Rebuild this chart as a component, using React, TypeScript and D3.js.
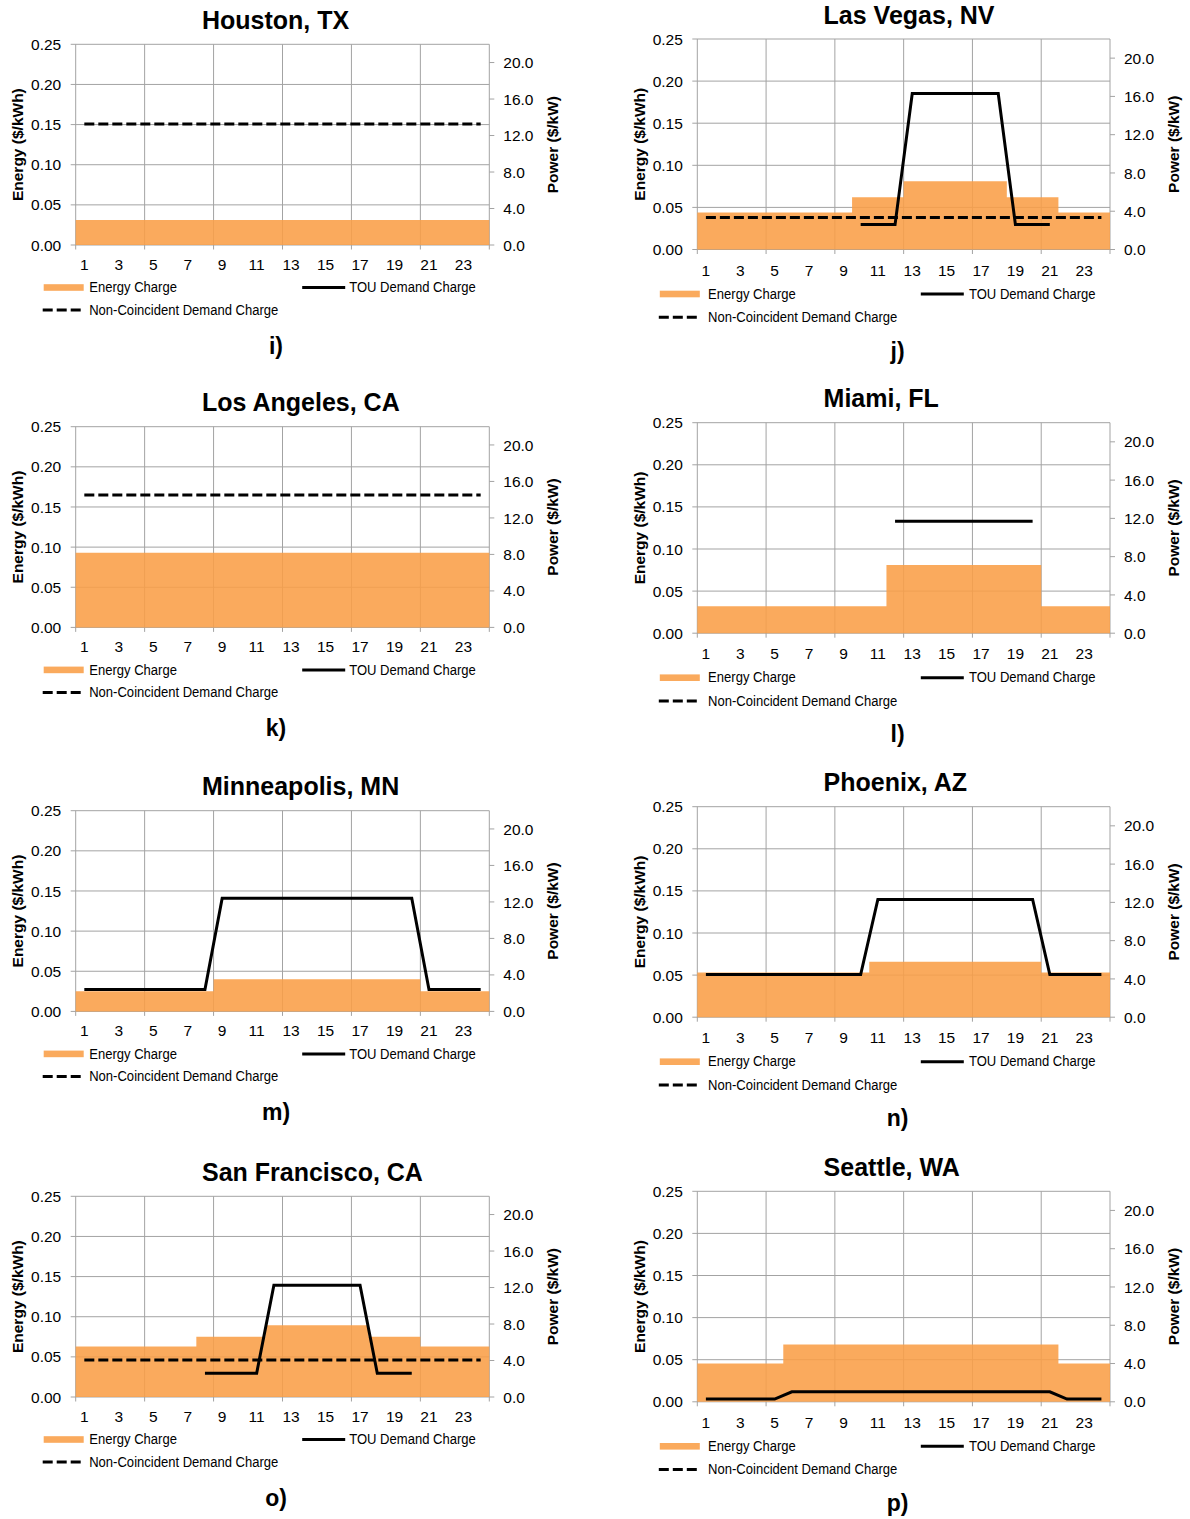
import React from "react";
import * as d3 from "d3";

// Hour-of-day categories and axis ticks
const HOURS = [1, 2, 3, 4, 5, 6, 7, 8, 9, 10, 11, 12, 13, 14, 15, 16, 17, 18, 19, 20, 21, 22, 23, 24];
const HOUR_LABELS = [1, 3, 5, 7, 9, 11, 13, 15, 17, 19, 21, 23];
const ENERGY_TICKS = [0, 0.05, 0.1, 0.15, 0.2, 0.25];
const POWER_TICKS = [0, 4, 8, 12, 16, 20];
const GRID_BOUNDARIES = [0, 4, 8, 12, 16, 20, 24];

// Energy charge ($/kWh) by hour
const houstonEnergy = [0.031, 0.031, 0.031, 0.031, 0.031, 0.031, 0.031, 0.031, 0.031, 0.031, 0.031, 0.031, 0.031, 0.031, 0.031, 0.031, 0.031, 0.031, 0.031, 0.031, 0.031, 0.031, 0.031, 0.031];
const lasVegasEnergy = [0.044, 0.044, 0.044, 0.044, 0.044, 0.044, 0.044, 0.044, 0.044, 0.062, 0.062, 0.062, 0.081, 0.081, 0.081, 0.081, 0.081, 0.081, 0.062, 0.062, 0.062, 0.044, 0.044, 0.044];
const losAngelesEnergy = [0.093, 0.093, 0.093, 0.093, 0.093, 0.093, 0.093, 0.093, 0.093, 0.093, 0.093, 0.093, 0.093, 0.093, 0.093, 0.093, 0.093, 0.093, 0.093, 0.093, 0.093, 0.093, 0.093, 0.093];
const miamiEnergy = [0.032, 0.032, 0.032, 0.032, 0.032, 0.032, 0.032, 0.032, 0.032, 0.032, 0.032, 0.081, 0.081, 0.081, 0.081, 0.081, 0.081, 0.081, 0.081, 0.081, 0.032, 0.032, 0.032, 0.032];
const minneapolisEnergy = [0.025, 0.025, 0.025, 0.025, 0.025, 0.025, 0.025, 0.025, 0.04, 0.04, 0.04, 0.04, 0.04, 0.04, 0.04, 0.04, 0.04, 0.04, 0.04, 0.04, 0.025, 0.025, 0.025, 0.025];
const phoenixEnergy = [0.053, 0.053, 0.053, 0.053, 0.053, 0.053, 0.053, 0.053, 0.053, 0.053, 0.066, 0.066, 0.066, 0.066, 0.066, 0.066, 0.066, 0.066, 0.066, 0.066, 0.053, 0.053, 0.053, 0.053];
const sanFranciscoEnergy = [0.063, 0.063, 0.063, 0.063, 0.063, 0.063, 0.063, 0.075, 0.075, 0.075, 0.075, 0.0895, 0.0895, 0.0895, 0.0895, 0.0895, 0.0895, 0.075, 0.075, 0.075, 0.063, 0.063, 0.063, 0.063];
const seattleEnergy = [0.0455, 0.0455, 0.0455, 0.0455, 0.0455, 0.068, 0.068, 0.068, 0.068, 0.068, 0.068, 0.068, 0.068, 0.068, 0.068, 0.068, 0.068, 0.068, 0.068, 0.068, 0.068, 0.0455, 0.0455, 0.0455];

// TOU demand charge ($/kW) by hour (null = no charge drawn)
const _ = null;
const houstonTou = [_, _, _, _, _, _, _, _, _, _, _, _, _, _, _, _, _, _, _, _, _, _, _, _];
const lasVegasTou = [_, _, _, _, _, _, _, _, _, 2.6, 2.6, 2.6, 16.3, 16.3, 16.3, 16.3, 16.3, 16.3, 2.6, 2.6, 2.6, _, _, _];
const losAngelesTou = [_, _, _, _, _, _, _, _, _, _, _, _, _, _, _, _, _, _, _, _, _, _, _, _];
const miamiTou = [_, _, _, _, _, _, _, _, _, _, _, 11.7, 11.7, 11.7, 11.7, 11.7, 11.7, 11.7, 11.7, 11.7, _, _, _, _];
const minneapolisTou = [2.4, 2.4, 2.4, 2.4, 2.4, 2.4, 2.4, 2.4, 12.4, 12.4, 12.4, 12.4, 12.4, 12.4, 12.4, 12.4, 12.4, 12.4, 12.4, 12.4, 2.4, 2.4, 2.4, 2.4];
const phoenixTou = [4.45, 4.45, 4.45, 4.45, 4.45, 4.45, 4.45, 4.45, 4.45, 4.45, 12.3, 12.3, 12.3, 12.3, 12.3, 12.3, 12.3, 12.3, 12.3, 12.3, 4.45, 4.45, 4.45, 4.45];
const sanFranciscoTou = [_, _, _, _, _, _, _, 2.6, 2.6, 2.6, 2.6, 12.25, 12.25, 12.25, 12.25, 12.25, 12.25, 2.6, 2.6, 2.6, _, _, _, _];
const seattleTou = [0.28, 0.28, 0.28, 0.28, 0.28, 1.05, 1.05, 1.05, 1.05, 1.05, 1.05, 1.05, 1.05, 1.05, 1.05, 1.05, 1.05, 1.05, 1.05, 1.05, 1.05, 0.28, 0.28, 0.28];

// Non-coincident demand charge ($/kW) by hour
const houstonNc = [13.27, 13.27, 13.27, 13.27, 13.27, 13.27, 13.27, 13.27, 13.27, 13.27, 13.27, 13.27, 13.27, 13.27, 13.27, 13.27, 13.27, 13.27, 13.27, 13.27, 13.27, 13.27, 13.27, 13.27];
const lasVegasNc = [3.35, 3.35, 3.35, 3.35, 3.35, 3.35, 3.35, 3.35, 3.35, 3.35, 3.35, 3.35, 3.35, 3.35, 3.35, 3.35, 3.35, 3.35, 3.35, 3.35, 3.35, 3.35, 3.35, 3.35];
const losAngelesNc = [14.5, 14.5, 14.5, 14.5, 14.5, 14.5, 14.5, 14.5, 14.5, 14.5, 14.5, 14.5, 14.5, 14.5, 14.5, 14.5, 14.5, 14.5, 14.5, 14.5, 14.5, 14.5, 14.5, 14.5];
const sanFranciscoNc = [4.05, 4.05, 4.05, 4.05, 4.05, 4.05, 4.05, 4.05, 4.05, 4.05, 4.05, 4.05, 4.05, 4.05, 4.05, 4.05, 4.05, 4.05, 4.05, 4.05, 4.05, 4.05, 4.05, 4.05];
const noNc = [_, _, _, _, _, _, _, _, _, _, _, _, _, _, _, _, _, _, _, _, _, _, _, _];

const LEGEND_ENERGY = "Energy Charge";
const LEGEND_TOU = "TOU Demand Charge";
const LEGEND_NC = "Non-Coincident Demand Charge";
const Y_LEFT_TITLE = "Energy ($/kWh)";
const Y_RIGHT_TITLE = "Power ($/kW)";

const PANELS = [
  { title: "Houston, TX", tag: "i)", col: 0, row: 0, energy: houstonEnergy, tou: houstonTou, nc: houstonNc },
  { title: "Las Vegas, NV", tag: "j)", col: 1, row: 0, energy: lasVegasEnergy, tou: lasVegasTou, nc: lasVegasNc },
  { title: "Los Angeles, CA", tag: "k)", col: 0, row: 1, energy: losAngelesEnergy, tou: losAngelesTou, nc: losAngelesNc },
  { title: "Miami, FL", tag: "l)", col: 1, row: 1, energy: miamiEnergy, tou: miamiTou, nc: noNc },
  { title: "Minneapolis, MN", tag: "m)", col: 0, row: 2, energy: minneapolisEnergy, tou: minneapolisTou, nc: noNc },
  { title: "Phoenix, AZ", tag: "n)", col: 1, row: 2, energy: phoenixEnergy, tou: phoenixTou, nc: noNc },
  { title: "San Francisco, CA", tag: "o)", col: 0, row: 3, energy: sanFranciscoEnergy, tou: sanFranciscoTou, nc: sanFranciscoNc },
  { title: "Seattle, WA", tag: "p)", col: 1, row: 3, energy: seattleEnergy, tou: seattleTou, nc: noNc },
];

// Column geometry of the plot areas
const COLUMNS = [
  { left: 75.7, right: 489.3, tops: [44.3, 426.7, 810.7, 1196.3], height: 200.7, tickBase: 24.5, legendRow1: 42.5, legendRow2: 65, legendSw: -32, legendTouSw: 226.5, legendTouText: 273.5, legendText: 13.5 },
  { left: 697.3, right: 1110, tops: [39, 422.7, 806.7, 1191.3], height: 210.5, tickBase: 26, legendRow1: 44.5, legendRow2: 67.7, legendSw: -37.5, legendTouSw: 223.5, legendTouText: 271.7, legendText: 10.8 },
];

const FONT = "'Liberation Sans', Arial, Helvetica, sans-serif";
const GRID = "#a3a3a3";
const ORANGE = "#F99E47";
const fmtE = d3.format(".2f");
const fmtP = d3.format(".1f");

function Panel({ p }: { p: (typeof PANELS)[number] }) {
  const c = COLUMNS[p.col];
  const top = c.tops[p.row];
  const bottom = top + c.height;
  const { left, right } = c;

  const x = d3.scaleBand<number>().domain(HOURS).range([left, right]).padding(0);
  const xb = d3.scaleLinear().domain([0, HOURS.length]).range([left, right]);
  const bw = x.bandwidth();
  const yE = d3.scaleLinear().domain([0, 0.25]).range([bottom, top]);
  const yP = d3.scaleLinear().domain([0, 22]).range([bottom, top]);

  const stepPts: [number, number][] = [];
  p.energy.forEach((v, i) => {
    const x0 = x(HOURS[i]) as number;
    stepPts.push([x0, v], [x0 + bw, v]);
  });
  const areaPath = d3
    .area<[number, number]>()
    .x((d) => d[0])
    .y0(bottom)
    .y1((d) => yE(d[1]))(stepPts) as string;

  const line = d3
    .line<number | null>()
    .defined((v) => v != null)
    .x((_v, i) => (x(HOURS[i]) as number) + bw / 2)
    .y((v) => yP(v as number));

  const touPath = line(p.tou) || "";
  const ncPath = line(p.nc) || "";
  const midY = (top + bottom) / 2;

  const r1 = bottom + c.legendRow1;
  const r2 = bottom + c.legendRow2;

  return (
    <g>
      <text x={left + 126.3} y={top - 15.3} fontFamily={FONT} fontWeight="bold" fontSize={25} fill="#000">
        {p.title}
      </text>

      {/* horizontal grid */}
      {ENERGY_TICKS.map((t) => (
        <line key={"h" + t} x1={left - 5} x2={right} y1={yE(t)} y2={yE(t)} stroke={GRID} strokeWidth={1} />
      ))}
      {/* vertical grid and x ticks */}
      {GRID_BOUNDARIES.map((b) => (
        <line key={"v" + b} x1={xb(b)} x2={xb(b)} y1={top} y2={bottom + 4.5} stroke={GRID} strokeWidth={1} />
      ))}
      {/* right axis ticks */}
      {POWER_TICKS.map((t) => (
        <line key={"r" + t} x1={right} x2={right + 5} y1={yP(t)} y2={yP(t)} stroke={GRID} strokeWidth={1} />
      ))}

      <path d={areaPath} fill={ORANGE} fillOpacity={0.88} />

      {ncPath && <path d={ncPath} fill="none" stroke="#000" strokeWidth={3} strokeDasharray="10,4" />}
      {touPath && <path d={touPath} fill="none" stroke="#000" strokeWidth={3} strokeLinejoin="miter" />}

      {/* left tick labels */}
      {ENERGY_TICKS.map((t) => (
        <text key={"lt" + t} x={left - 14.5} y={yE(t)} dy="0.36em" textAnchor="end" fontFamily={FONT} fontSize={15.5} fill="#000">
          {fmtE(t)}
        </text>
      ))}
      {/* right tick labels */}
      {POWER_TICKS.map((t) => (
        <text key={"rt" + t} x={right + 14} y={yP(t)} dy="0.36em" textAnchor="start" fontFamily={FONT} fontSize={15.5} fill="#000">
          {fmtP(t)}
        </text>
      ))}
      {/* hour labels */}
      {HOUR_LABELS.map((h) => (
        <text key={"x" + h} x={(x(h) as number) + bw / 2} y={bottom + c.tickBase} textAnchor="middle" fontFamily={FONT} fontSize={15.5} fill="#000">
          {h}
        </text>
      ))}

      <text transform={`translate(${left - 58.3},${midY}) rotate(-90)`} dy="0.36em" textAnchor="middle" fontFamily={FONT} fontWeight="bold" fontSize={15.5} fill="#000">
        {Y_LEFT_TITLE}
      </text>
      <text transform={`translate(${right + 63.5},${midY}) rotate(-90)`} dy="0.36em" textAnchor="middle" fontFamily={FONT} fontWeight="bold" fontSize={15.5} fill="#000">
        {Y_RIGHT_TITLE}
      </text>

      {/* legend */}
      <rect x={left + c.legendSw} y={r1 - 3.3} width={40} height={6.6} fill={ORANGE} fillOpacity={0.88} />
      <text transform={`translate(${left + c.legendText},${r1 + 4.6}) scale(0.9,1)`} fontFamily={FONT} fontSize={14.5} fill="#000">
        {LEGEND_ENERGY}
      </text>
      <line x1={left + c.legendTouSw} x2={left + c.legendTouSw + 43} y1={r1} y2={r1} stroke="#000" strokeWidth={3} />
      <text transform={`translate(${left + c.legendTouText},${r1 + 4.6}) scale(0.9,1)`} fontFamily={FONT} fontSize={14.5} fill="#000">
        {LEGEND_TOU}
      </text>
      <line x1={left + c.legendSw - 1} x2={left + c.legendSw + 37} y1={r2} y2={r2} stroke="#000" strokeWidth={3} strokeDasharray="10,4" />
      <text transform={`translate(${left + c.legendText},${r2 + 4.6}) scale(0.9,1)`} fontFamily={FONT} fontSize={14.5} fill="#000">
        {LEGEND_NC}
      </text>

      <text x={left + 200.3} y={bottom + 109} textAnchor="middle" fontFamily={FONT} fontWeight="bold" fontSize={23} fill="#000">
        {p.tag}
      </text>
    </g>
  );
}

export default function App() {
  return (
    <svg
      width={1190}
      height={1519}
      viewBox="0 0 1190 1519"
      style={{ position: "absolute", left: 0, top: 0, background: "#fff" }}
    >
      <rect x={0} y={0} width={1190} height={1519} fill="#fff" />
      {PANELS.map((p) => (
        <Panel key={p.title} p={p} />
      ))}
    </svg>
  );
}
